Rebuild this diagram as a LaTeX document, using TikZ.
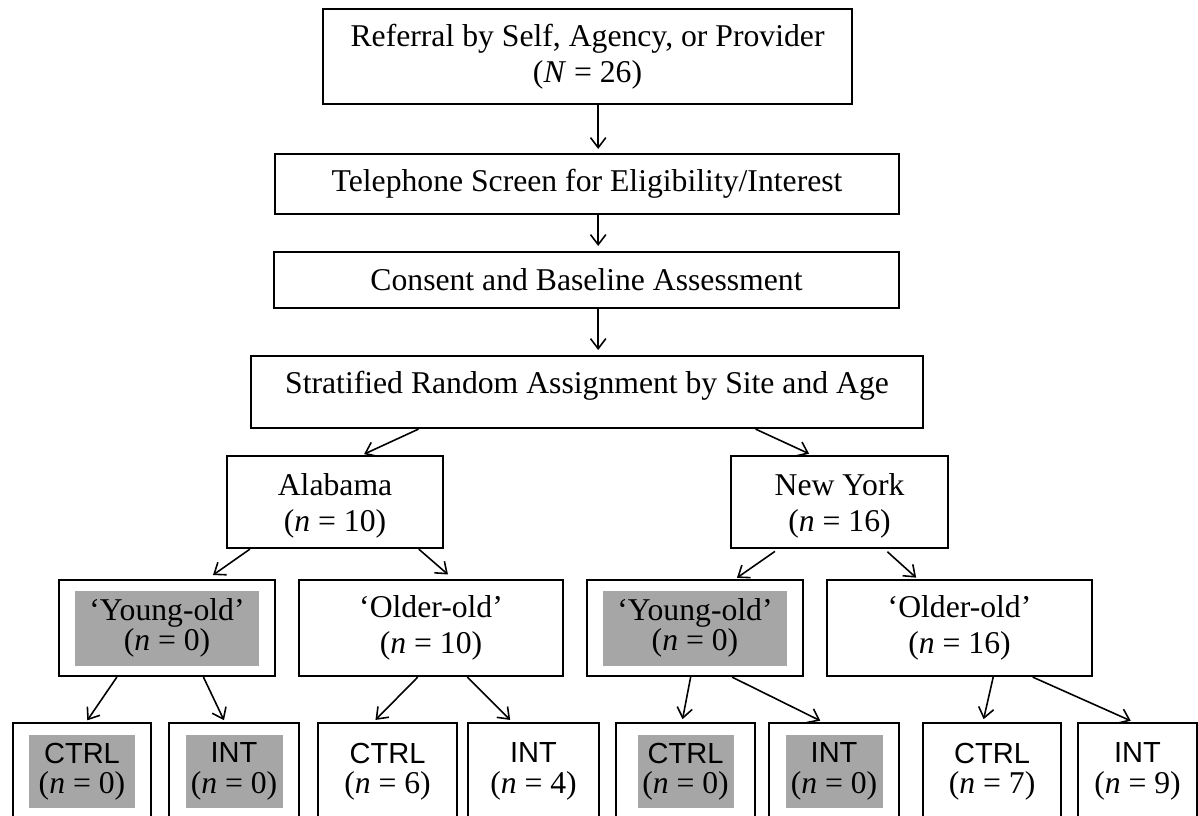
\documentclass[tikz,border=0pt]{standalone}
\usepackage{fontspec}
\setmainfont{Liberation Serif}
\setsansfont{Liberation Sans}
\usetikzlibrary{arrows.meta,calc,positioning}
\definecolor{shade}{RGB}{166,166,166}
\newcommand{\armlabel}[1]{{\sffamily\fontsize{11}{11.5}\selectfont #1}}

\begin{document}
\begin{tikzpicture}[box/.style = {
                        draw, line width=0.8pt,
                        align=center, inner sep=0pt,
                        font=\fontsize{12}{13.8}\selectfont
                      },
                      greyed/.style = {
                        fill=shade, align=center, inner sep=0pt,
                        font=\fontsize{12}{11.3}\selectfont
                      },
                      site/.style = {
                        box, minimum height=1.225cm,
                        text height=25.5pt, text depth=3pt
                      },
                      age/.style = {
                        box, minimum height=1.278cm
                      },
                      arm/.style = {
                        box, minimum height=1.291cm,
                        font=\fontsize{12}{11.5}\selectfont
                      },
                      armgrey/.style = {
                        greyed, minimum height=0.972cm,
                        font=\fontsize{12}{11.5}\selectfont
                      },
                      arrow/.style = {
                        -{Straight Barb[length=3.8pt,width=5.8pt]},
                        line width=0.6pt
                      }]
    \useasboundingbox (0,0) rectangle (15.945,-10.848);
    \clip (0,0) rectangle (15.945,-10.848);

    % main stages
    \node(ref)[box, minimum width=7.04cm, minimum height=1.264cm] at (7.820,-0.752)
        {Referral by Self, Agency, or Provider\\(\textit{N} = 26)};
    \node(tel)[box, minimum width=8.305cm, minimum height=0.799cm] at (7.813,-2.449)
        {Telephone Screen for Eligibility/Interest};
    \node(cons)[box, minimum width=8.319cm, minimum height=0.745cm] at (7.806,-3.727)
        {Consent and Baseline Assessment};
    \node(strat)[box, minimum width=8.944cm, minimum height=0.958cm, text depth=7.2pt] at (7.813,-5.218)
        {Stratified Random Assignment by Site and Age};

    % sites
    \node(alabama)[site, minimum width=2.875cm] at (4.459,-6.682) {Alabama\\(\textit{n} = 10)};
    \node(newyork)[site, minimum width=2.888cm] at (11.174,-6.682) {New York\\(\textit{n} = 16)};

    % age groups
    \node(yoAL)[age, minimum width=2.875cm] at (2.223,-8.359) {};
    \node(yoALtxt)[greyed, minimum width=2.449cm, minimum height=0.998cm] at (yoAL) {‘Young-old’\\(\textit{n} = 0)};
    \node(olAL)[age, minimum width=3.514cm] at (5.737,-8.359) {‘Older-old’\\(\textit{n} = 10)};
    \node(yoNY)[age, minimum width=2.875cm] at (9.250,-8.359) {};
    \node(yoNYtxt)[greyed, minimum width=2.436cm, minimum height=0.998cm] at (yoNY) {‘Young-old’\\(\textit{n} = 0)};
    \node(olNY)[age, minimum width=3.527cm] at (12.771,-8.359) {‘Older-old’\\(\textit{n} = 16)};

    % arms
    \node(ctrlA1)[arm, minimum width=1.837cm] at (1.091,-10.269) {};
    \node(ctrlA1txt)[armgrey, minimum width=1.411cm] at (ctrlA1) {\armlabel{CTRL}\\(\textit{n} = 0)};
    \node(intA1)[arm, minimum width=1.730cm] at (3.115,-10.269) {};
    \node(intA1txt)[armgrey, minimum width=1.291cm] at (intA1) {\armlabel{INT}\\(\textit{n} = 0)};
    \node(ctrlA2)[arm, minimum width=1.850cm] at (5.158,-10.269) {\armlabel{CTRL}\\(\textit{n} = 6)};
    \node(intA2)[arm, minimum width=1.744cm] at (7.101,-10.269) {\armlabel{INT}\\(\textit{n} = 4)};
    \node(ctrlN1)[arm, minimum width=1.850cm] at (9.124,-10.269) {};
    \node(ctrlN1txt)[armgrey, minimum width=1.278cm] at (ctrlN1) {\armlabel{CTRL}\\(\textit{n} = 0)};
    \node(intN1)[arm, minimum width=1.730cm] at (11.101,-10.269) {};
    \node(intN1txt)[armgrey, minimum width=1.291cm] at (intN1) {\armlabel{INT}\\(\textit{n} = 0)};
    \node(ctrlN2)[arm, minimum width=1.837cm] at (13.204,-10.269) {\armlabel{CTRL}\\(\textit{n} = 7)};
    \node(intN2)[arm, minimum width=1.584cm] at (15.140,-10.269) {\armlabel{INT}\\(\textit{n} = 9)};

    % connectors
    \coordinate (spine) at ($(ref.south west)!0.52!(ref.south east)$);
    \draw[arrow, shorten >=1.5pt] (spine) -- (spine |- tel.north);
    \draw[arrow, shorten >=1.9pt] (spine |- tel.south) -- (spine |- cons.north);
    \draw[arrow, shorten >=1.9pt] (spine |- cons.south) -- (spine |- strat.north);

    \foreach \src/\fa/\dst/\fb/\sg/\eg in {
        strat/0.25/alabama/0.625/0pt/0.75pt, strat/0.75/newyork/0.373/0pt/1.1pt,
        alabama/0.11/yoAL/0.685/0pt/2.6pt, alabama/0.884/olAL/0.583/0pt/2.6pt,
        newyork/0.22/yoNY/0.685/1.5pt/0.75pt, newyork/0.705/olNY/0.343/1.5pt/0.75pt,
        yoAL/0.27/ctrlA1/0.53/0pt/0.75pt, yoAL/0.667/intA1/0.43/0pt/0.75pt,
        olAL/0.45/ctrlA2/0.40/0pt/1.1pt, olAL/0.636/intA2/0.34/0pt/1.1pt,
        yoNY/0.48/ctrlN1/0.475/0pt/1.1pt, yoNY/0.67/intN1/0.415/0pt/1.1pt,
        olNY/0.626/ctrlN2/0.435/0pt/1.1pt, olNY/0.774/intN2/0.466/0pt/1.1pt}
      \draw[arrow, shorten <=\sg, shorten >=\eg]
        ($(\src.south west)!\fa!(\src.south east)$) -- ($(\dst.north west)!\fb!(\dst.north east)$);
\end{tikzpicture}
\end{document}
